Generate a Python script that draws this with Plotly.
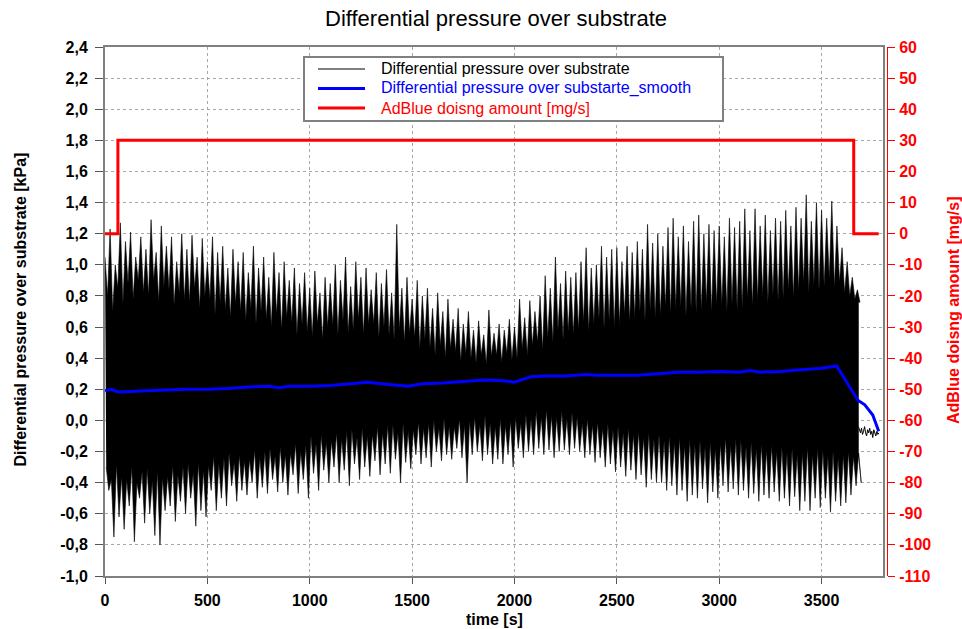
import plotly.graph_objects as go

# ---------------- data ----------------
# raw signal: spike maxima / minima every 25 s (t = 0 ... 3675 s)
t_env = list(range(0, 3700, 25))
sig_hi = [1.05, 1.23, 1.00, 1.27, 1.15, 1.21, 1.05, 1.18, 1.10, 1.29, 1.08, 1.25,
          1.12, 1.18, 1.02, 1.20, 1.10, 1.19, 1.05, 1.17, 1.02, 1.18, 1.08, 1.12,
          0.98, 1.10, 1.02, 1.08, 0.95, 1.12, 0.98, 1.05, 0.92, 1.08, 0.95, 1.02,
          0.90, 0.98, 0.88, 0.95, 0.85, 0.96, 0.82, 0.92, 0.88, 1.00, 0.90, 1.05,
          0.86, 1.02, 0.92, 0.98, 0.84, 0.95, 0.88, 0.97, 0.82, 1.26, 0.85, 0.92,
          0.78, 0.90, 0.80, 0.85, 0.72, 0.82, 0.70, 0.78, 0.65, 0.72, 0.62, 0.70,
          0.58, 0.64, 0.55, 0.71, 0.56, 0.62, 0.58, 0.65, 0.60, 0.78, 0.66, 0.77,
          0.70, 0.80, 0.93, 0.85, 1.05, 0.88, 0.96, 0.92, 0.95, 1.02, 1.11, 0.98,
          1.00, 1.12, 1.05, 1.10, 1.11, 1.02, 1.12, 1.08, 1.15, 1.10, 1.26, 1.14,
          1.20, 1.12, 1.24, 1.30, 1.18, 1.25, 1.15, 1.28, 1.32, 1.20, 1.26, 1.22,
          1.25, 1.18, 1.30, 1.24, 1.28, 1.36, 1.22, 1.36, 1.25, 1.32, 1.22, 1.30,
          1.28, 1.35, 1.25, 1.37, 1.30, 1.45, 1.28, 1.40, 1.35, 1.30, 1.41, 1.25,
          1.11, 1.02, 0.92, 0.84]
sig_lo = [-0.45, -0.75, -0.62, -0.70, -0.55, -0.78, -0.50, -0.66, -0.60, -0.74, -0.80, -0.58,
          -0.55, -0.65, -0.52, -0.60, -0.50, -0.68, -0.58, -0.62, -0.45, -0.58, -0.50, -0.55,
          -0.42, -0.52, -0.45, -0.48, -0.40, -0.50, -0.43, -0.47, -0.38, -0.46, -0.40, -0.48,
          -0.35, -0.47, -0.38, -0.50, -0.34, -0.45, -0.32, -0.40, -0.30, -0.40, -0.32, -0.42,
          -0.28, -0.38, -0.30, -0.36, -0.26, -0.35, -0.28, -0.34, -0.25, -0.40, -0.27, -0.31,
          -0.22, -0.28, -0.24, -0.30, -0.20, -0.26, -0.22, -0.25, -0.18, -0.24, -0.40, -0.22,
          -0.20, -0.26, -0.22, -0.28, -0.25, -0.28, -0.22, -0.30, -0.18, -0.24, -0.20, -0.22,
          -0.18, -0.22, -0.19, -0.24, -0.20, -0.19, -0.22, -0.18, -0.20, -0.24, -0.22, -0.27,
          -0.24, -0.30, -0.28, -0.33, -0.30, -0.36, -0.32, -0.38, -0.35, -0.43, -0.38, -0.40,
          -0.40, -0.45, -0.42, -0.48, -0.45, -0.52, -0.48, -0.50, -0.44, -0.53, -0.46, -0.50,
          -0.42, -0.46, -0.44, -0.48, -0.45, -0.50, -0.47, -0.52, -0.48, -0.50, -0.46, -0.52,
          -0.50, -0.55, -0.49, -0.58, -0.52, -0.58, -0.50, -0.56, -0.50, -0.59, -0.52, -0.55,
          -0.53, -0.48, -0.42, -0.40]
# depth of the white gaps between spikes (upper / lower edge of the dense band)
gap_hi = [0.80, 0.70, 0.85, 0.75, 0.88, 0.78, 0.90, 0.82, 0.80, 0.90, 0.76, 0.86,
          0.84, 0.74, 0.82, 0.77, 0.76, 0.85, 0.72, 0.80, 0.78, 0.68, 0.76, 0.71,
          0.66, 0.75, 0.70, 0.64, 0.72, 0.62, 0.70, 0.65, 0.60, 0.68, 0.58, 0.66,
          0.63, 0.55, 0.62, 0.57, 0.54, 0.62, 0.52, 0.60, 0.61, 0.55, 0.64, 0.56,
          0.58, 0.65, 0.55, 0.62, 0.62, 0.53, 0.60, 0.55, 0.52, 0.58, 0.50, 0.56,
          0.53, 0.46, 0.52, 0.47, 0.42, 0.48, 0.40, 0.46, 0.44, 0.38, 0.43, 0.40,
          0.37, 0.42, 0.36, 0.41, 0.42, 0.37, 0.43, 0.39, 0.40, 0.46, 0.42, 0.48,
          0.50, 0.45, 0.53, 0.50, 0.58, 0.52, 0.57, 0.55, 0.58, 0.63, 0.57, 0.62,
          0.65, 0.59, 0.64, 0.60, 0.62, 0.68, 0.63, 0.66, 0.70, 0.64, 0.71, 0.66,
          0.67, 0.73, 0.68, 0.72, 0.73, 0.67, 0.72, 0.69, 0.70, 0.75, 0.69, 0.74,
          0.74, 0.70, 0.75, 0.71, 0.72, 0.78, 0.73, 0.77, 0.80, 0.75, 0.81, 0.77,
          0.78, 0.84, 0.79, 0.83, 0.88, 0.82, 0.87, 0.84, 0.86, 0.91, 0.85, 0.89,
          0.82, 0.80, 0.78, 0.76]
gap_lo = [-0.30, -0.38, -0.28, -0.36, -0.38, -0.30, -0.40, -0.33, -0.31, -0.39, -0.32, -0.37,
          -0.36, -0.29, -0.35, -0.30, -0.28, -0.34, -0.27, -0.32, -0.29, -0.23, -0.28, -0.24,
          -0.21, -0.27, -0.22, -0.26, -0.25, -0.19, -0.24, -0.20, -0.18, -0.23, -0.17, -0.22,
          -0.21, -0.15, -0.20, -0.16, -0.10, -0.15, -0.09, -0.14, -0.13, -0.08, -0.12, -0.07,
          -0.06, -0.11, -0.05, -0.10, -0.09, -0.04, -0.08, -0.03, -0.03, -0.08, -0.02, -0.07,
          -0.06, -0.01, -0.05, -0.02, 0.00, -0.05, 0.01, -0.04, -0.04, 0.01, -0.03, 0.00,
          0.02, -0.03, 0.03, -0.02, -0.04, 0.01, -0.03, 0.00, 0.02, -0.02, 0.04, 0.01,
          0.06, 0.02, 0.07, 0.03, 0.02, 0.06, 0.01, 0.05, 0.02, -0.02, 0.01, -0.03,
          -0.01, -0.05, -0.02, -0.06, -0.04, -0.08, -0.05, -0.09, -0.07, -0.11, -0.08, -0.12,
          -0.09, -0.13, -0.10, -0.14, -0.11, -0.16, -0.12, -0.15, -0.13, -0.17, -0.14, -0.18,
          -0.15, -0.11, -0.16, -0.12, -0.13, -0.17, -0.14, -0.18, -0.15, -0.19, -0.16, -0.20,
          -0.17, -0.21, -0.18, -0.22, -0.21, -0.17, -0.22, -0.18, -0.19, -0.23, -0.20, -0.24,
          -0.22, -0.20, -0.23, -0.21]

# raw signal after dosing stopped
t_tail = [3680, 3685, 3690, 3695, 3700, 3705, 3710, 3715, 3720, 3725, 3730,
          3735, 3740, 3745, 3750, 3755, 3760, 3765, 3770, 3775, 3780]
v_tail = [-0.04, -0.06, -0.08, -0.05, -0.09, -0.07, -0.04, -0.08, -0.10, -0.06, -0.08,
          -0.05, -0.09, -0.07, -0.11, -0.06, -0.08, -0.10, -0.07, -0.09, -0.08]

# smoothed signal
t_smooth = [0, 30, 60, 100, 200, 300, 400, 500, 600, 700, 800, 850, 900, 1000, 1100, 1200,
            1280, 1350, 1480, 1550, 1650, 1750, 1850, 1950, 2000, 2080, 2150, 2250, 2350,
            2400, 2500, 2600, 2700, 2800, 2900, 3000, 3100, 3150, 3200, 3300, 3400, 3500,
            3574, 3677, 3711, 3750, 3779]
v_smooth = [0.19, 0.20, 0.185, 0.185, 0.19, 0.195, 0.20, 0.20, 0.205, 0.215, 0.22, 0.21,
            0.22, 0.22, 0.225, 0.235, 0.245, 0.235, 0.22, 0.235, 0.24, 0.25, 0.26, 0.255,
            0.245, 0.28, 0.285, 0.285, 0.295, 0.29, 0.29, 0.29, 0.30, 0.31, 0.31, 0.315,
            0.31, 0.32, 0.31, 0.315, 0.325, 0.335, 0.35, 0.13, 0.10, 0.035, -0.07]

# AdBlue dosing (step)
t_dose = [0, 63, 3657, 3779]
v_dose = [0, 30, 0, 0]

# tick labels
x_ticks = [0, 500, 1000, 1500, 2000, 2500, 3000, 3500]
x_ticktext = ["0", "500", "1000", "1500", "2000", "2500", "3000", "3500"]
y_ticks = [-1.0, -0.8, -0.6, -0.4, -0.2, 0.0, 0.2, 0.4, 0.6, 0.8, 1.0, 1.2, 1.4, 1.6,
           1.8, 2.0, 2.2, 2.4]
y_ticktext = ["-1,0", "-0,8", "-0,6", "-0,4", "-0,2", "0,0", "0,2", "0,4", "0,6", "0,8",
              "1,0", "1,2", "1,4", "1,6", "1,8", "2,0", "2,2", "2,4"]
y2_ticks = [-110, -100, -90, -80, -70, -60, -50, -40, -30, -20, -10, 0, 10, 20, 30, 40, 50, 60]
y2_ticktext = [str(v) for v in y2_ticks]

legend_names = ["Differential pressure over substrate",
                "Differential pressure over substarte_smooth",
                "AdBlue doisng amount [mg/s]"]
legend_colors = ["black", "#0000ff", "#ff0000"]
legend_widths = [1, 3, 3]

# ---------------- build traces ----------------
# outline of the raw signal: spikes on top, spikes at the bottom
up_x, up_y, dn_x, dn_y = [], [], [], []
for t, hi, ghi, lo, glo in zip(t_env, sig_hi, gap_hi, sig_lo, gap_lo):
    up_x += [t, t + 12.5]
    up_y += [hi, ghi]
    dn_x += [t + 6, t + 18.5]
    dn_y += [glo, lo]
poly_x = up_x + [t_tail[0]] + [t_tail[0]] + dn_x[::-1]
poly_y = up_y + [gap_hi[-1]] + [gap_lo[-1]] + dn_y[::-1]

FONT = "Liberation Sans, Arial, sans-serif"

fig = go.Figure()
fig.add_trace(go.Scatter(x=poly_x, y=poly_y, mode="lines", fill="toself", fillcolor="black",
                         line=dict(color="black", width=0.6), showlegend=False, hoverinfo="skip"))
fig.add_trace(go.Scatter(x=t_tail, y=v_tail, mode="lines", line=dict(color="black", width=1),
                         name=legend_names[0], showlegend=False))
fig.add_trace(go.Scatter(x=t_dose, y=v_dose, mode="lines",
                         line=dict(color="#ff0000", width=3, shape="hv"),
                         yaxis="y2", name=legend_names[2], showlegend=False))
fig.add_trace(go.Scatter(x=t_smooth, y=v_smooth, mode="lines", line=dict(color="#0000ff", width=3),
                         name=legend_names[1], showlegend=False))

W, H = 962, 629
L, R, T, B = 105, 75, 47, 53
pw = W - L - R
ph = H - T - B
plot_right = 883


def px(xp):
    return (xp - L) / pw


def py(yp):
    return 1 - (yp - T) / ph


tickfont = dict(family=FONT, size=16, color="black", weight="bold")

# legend box drawn in the plot's corner
shapes = [dict(type="rect", xref="paper", yref="paper", x0=px(304), x1=px(723),
               y0=py(121), y1=py(57), line=dict(color="#808080", width=2),
               fillcolor="white", layer="above")]
annotations = []
for k, (name, col, lw) in enumerate(zip(legend_names, legend_colors, legend_widths)):
    yc = 69 + k * 19.5
    shapes.append(dict(type="line", xref="paper", yref="paper", x0=px(318), x1=px(365),
                       y0=py(yc), y1=py(yc), line=dict(color=col, width=lw), layer="above"))
    annotations.append(dict(text=name, xref="paper", yref="paper", x=px(379), y=py(yc),
                            xanchor="left", yanchor="middle", showarrow=False,
                            font=dict(family=FONT, size=16, color=col)))

annotations += [
    dict(text="Differential pressure over substrate", xref="paper", yref="paper",
         x=px(496), y=py(19), xanchor="center", yanchor="middle", showarrow=False,
         font=dict(family=FONT, size=22, color="black")),
    dict(text="Differential pressure over substrate [kPa]", xref="paper", yref="paper",
         x=px(19.5), y=py(310), xanchor="center", yanchor="middle",
         textangle=-90, showarrow=False,
         font=dict(family=FONT, size=16, color="black", weight="bold")),
    dict(text="AdBlue doisng amount [mg/s]", xref="paper", yref="paper",
         x=px(953), y=py(310), xanchor="center", yanchor="middle",
         textangle=-90, showarrow=False,
         font=dict(family=FONT, size=16, color="#ff0000", weight="bold")),
    dict(text="time [s]", xref="paper", yref="paper",
         x=px(494), y=py(619), xanchor="center", yanchor="middle",
         showarrow=False,
         font=dict(family=FONT, size=16, color="black", weight="bold")),
]

fig.update_layout(
    width=W, height=H, autosize=False,
    margin=dict(l=L, r=R, t=T, b=B, pad=0),
    paper_bgcolor="white", plot_bgcolor="white",
    font=dict(family=FONT, size=16, color="black"),
    showlegend=False,
    xaxis=dict(domain=[0, (plot_right - L) / pw], range=[0, 3800],
               tickmode="array", tickvals=x_ticks, ticktext=x_ticktext,
               tickfont=tickfont, ticks="outside", ticklen=6, tickcolor="#555555",
               ticklabelstandoff=3,
               showgrid=True, gridcolor="#a8a8a8", griddash="dot", gridwidth=1,
               showline=True, linecolor="#808080", linewidth=2, mirror=True,
               zeroline=False),
    yaxis=dict(range=[-1.0, 2.4], tickmode="array", tickvals=y_ticks, ticktext=y_ticktext,
               tickfont=tickfont, ticks="outside", ticklen=8, tickcolor="#555555",
               ticklabelstandoff=4,
               showgrid=True, gridcolor="#a8a8a8", griddash="dot", gridwidth=1,
               showline=True, linecolor="#808080", linewidth=2, mirror=True,
               zeroline=False),
    yaxis2=dict(range=[-110, 60], overlaying="y", side="right", anchor="free", position=1,
                tickmode="array", tickvals=y2_ticks, ticktext=y2_ticktext,
                tickfont=dict(family=FONT, size=16, color="#ff0000", weight="bold"),
                ticks="outside", ticklen=7, tickcolor="#ff0000",
                ticklabelstandoff=1,
                showgrid=False, zeroline=False, showline=True, linecolor="#ff0000", linewidth=1),
    shapes=shapes,
    annotations=annotations,
)

fig.write_html("out.html")
